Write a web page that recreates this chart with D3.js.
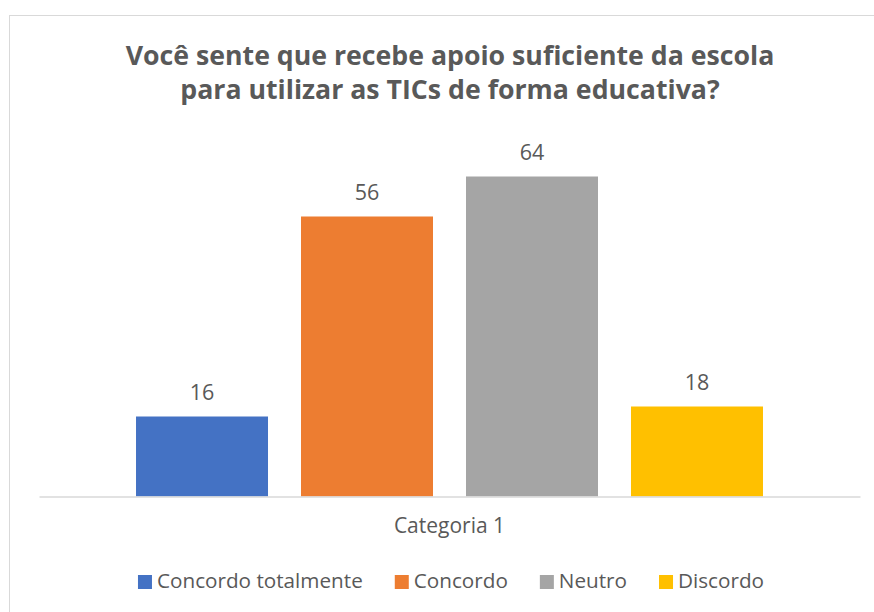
<!DOCTYPE html>
<html>
<head>
<meta charset="utf-8">
<script src="https://cdn.jsdelivr.net/npm/d3@7"></script>
<style>
  body { margin: 0; background: #fff; }
  text { font-family: "Open Sans", sans-serif; fill: #595959; }
</style>
</head>
<body>
<svg id="chart" width="874" height="612"></svg>
<script>
var titleLines = ['Você sente que recebe apoio suficiente da escola',
                  'para utilizar as TICs de forma educativa?'];
var categories = ['Categoria 1'];
var series = ['Concordo totalmente', 'Concordo', 'Neutro', 'Discordo'];
var values = [16, 56, 64, 18];
var colors = ['#4472C4', '#ED7D31', '#A5A5A5', '#FFC000'];
var yMax = 70;

var svg = d3.select('#chart');

// chart frame (runs off the right and bottom of the window)
svg.append('rect')
  .attr('x', 9.5).attr('y', 15.5)
  .attr('width', 900).attr('height', 700)
  .attr('fill', 'none')
  .attr('stroke', '#d9d9d9')
  .attr('stroke-width', 1);

var plot = { left: 39, right: 860, top: 146.5, bottom: 496.5 };

var x0 = d3.scaleBand().domain(categories).range([plot.left, plot.right]);
var x1 = d3.scaleBand().domain(series).range([0, x0.bandwidth()])
  .paddingInner(0.2).paddingOuter(0.588);
var y = d3.scaleLinear().domain([0, yMax]).range([plot.bottom, plot.top]);

// title
svg.append('text')
  .attr('text-anchor', 'middle')
  .style('font-size', '26.7px')
  .style('font-weight', 'bold')
  .selectAll('tspan')
  .data(titleLines)
  .enter()
  .append('tspan')
  .attr('x', 450)
  .attr('y', function(d, i) { return 65 + i * 34; })
  .text(function(d) { return d; });

var rows = series.map(function(s, i) { return { name: s, value: values[i], color: colors[i] }; });

var g = svg.append('g').attr('transform', 'translate(' + x0(categories[0]) + ',0)');

g.selectAll('rect.bar')
  .data(rows)
  .enter()
  .append('rect')
  .attr('class', 'bar')
  .attr('x', function(d) { return x1(d.name); })
  .attr('y', function(d) { return y(d.value); })
  .attr('width', x1.bandwidth())
  .attr('height', function(d) { return y(0) - y(d.value); })
  .attr('fill', function(d) { return d.color; });

g.selectAll('text.lbl')
  .data(rows)
  .enter()
  .append('text')
  .attr('class', 'lbl')
  .attr('x', function(d) { return x1(d.name) + x1.bandwidth() / 2; })
  .attr('y', function(d) { return y(d.value) - 17; })
  .attr('text-anchor', 'middle')
  .style('font-size', '21.5px')
  .text(function(d) { return d.value; });

// category axis
var xAxis = svg.append('g')
  .attr('transform', 'translate(0,' + plot.bottom + ')')
  .call(d3.axisBottom(x0).tickSize(0).tickPadding(22));
xAxis.select('.domain').attr('stroke', '#d9d9d9').attr('stroke-width', 1.5);
xAxis.selectAll('text')
  .style('font-size', '21px')
  .style('font-family', '"Open Sans", sans-serif')
  .attr('fill', '#595959');

// legend
var legend = svg.append('g');
var items = legend.selectAll('g').data(rows).enter().append('g');
items.append('rect')
  .attr('width', 14).attr('height', 14)
  .attr('y', 575)
  .attr('fill', function(d) { return d.color; });
items.append('text')
  .attr('x', 19)
  .attr('y', 588)
  .style('font-size', '20.7px')
  .text(function(d) { return d.name; });

var pos = 0;
items.each(function() {
  var w = d3.select(this).select('text').node().getComputedTextLength();
  d3.select(this).attr('transform', 'translate(' + pos + ',0)');
  pos += 19 + w + 32;
});
var total = pos - 32;
legend.attr('transform', 'translate(' + (451 - total / 2) + ',0)');
</script>
</body>
</html>
